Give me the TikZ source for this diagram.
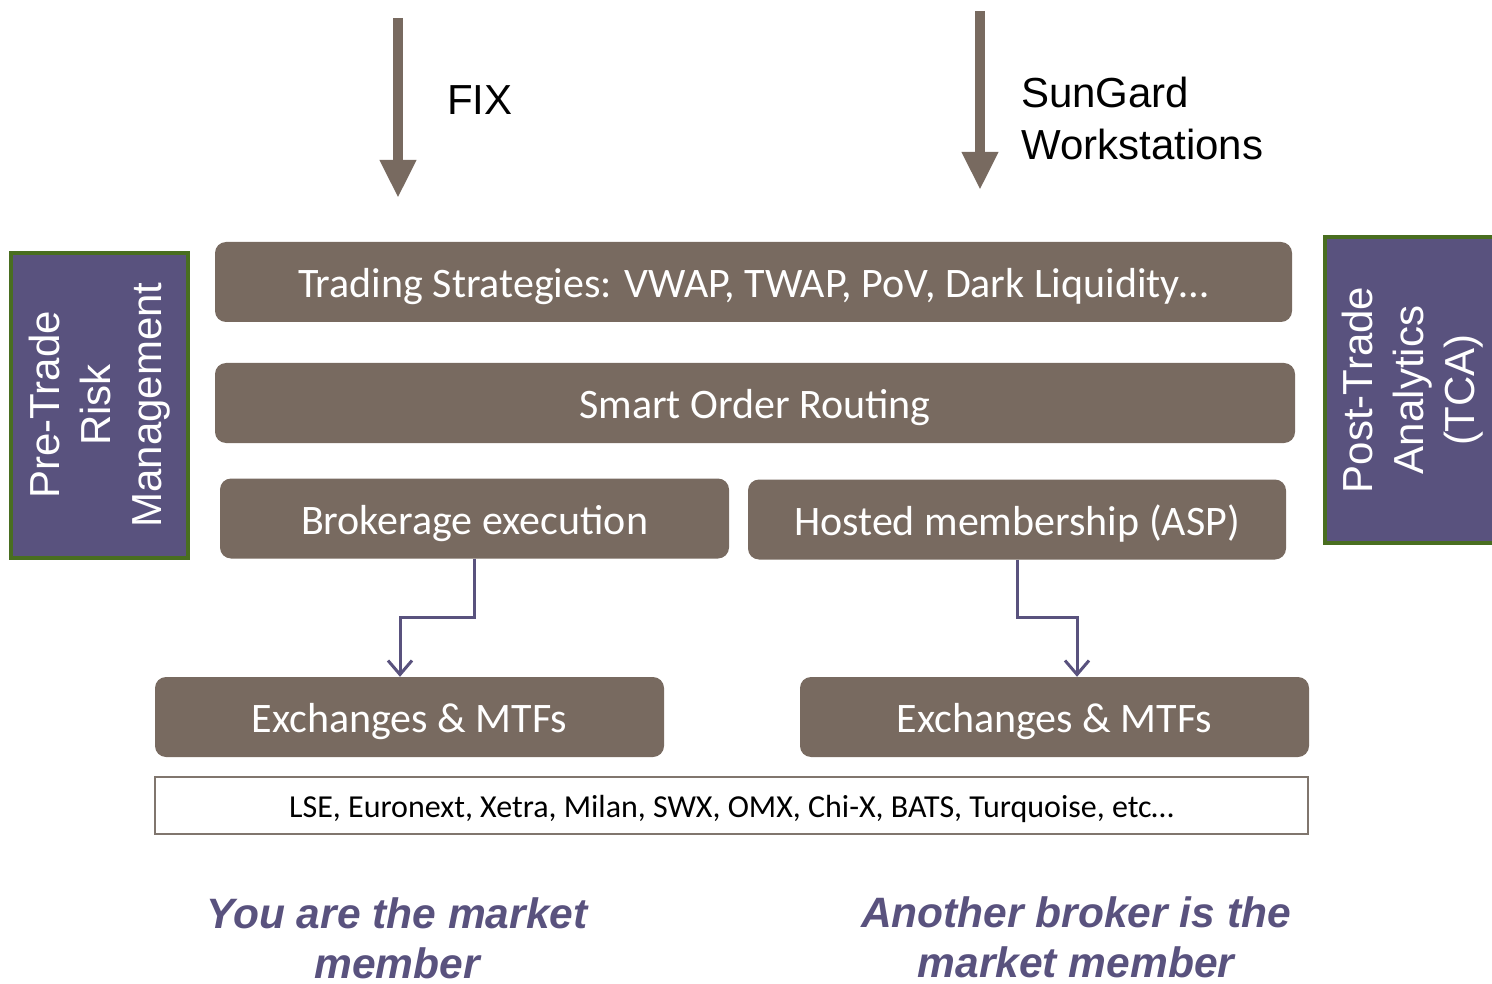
\documentclass[tikz,border=0pt]{standalone}
\usepackage{fontspec}
\setmainfont{Carlito}
\newfontfamily\arialf{Liberation Sans}
\usetikzlibrary{arrows.meta}
\definecolor{boxc}{RGB}{120,106,96}
\definecolor{purp}{RGB}{89,82,126}
\definecolor{greenb}{RGB}{73,110,32}
\definecolor{lsegray}{RGB}{128,118,110}
\tikzset{
  layer/.style={rounded corners=11pt, fill=boxc, text=white, inner sep=0pt,
    text height=31pt, text depth=0pt, font=\fontsize{42}{50}\selectfont},
  sidebox/.style={draw=greenb, line width=4pt, fill=purp, inner sep=0pt},
  sidetext/.style={rotate=90, align=center, text=white, inner sep=0pt,
    font=\arialf\fontsize{42}{51}\selectfont},
  bigarrow/.style={draw=boxc, line width=10pt, -{Triangle[width=34pt,length=38pt]}},
  conn/.style={draw=purp, line width=3pt, -{Straight Barb[length=14pt,width=24pt,line width=3pt]}},
  toplabel/.style={align=left, anchor=west, inner sep=0pt, font=\arialf\fontsize{42}{52}\selectfont},
  member/.style={align=center, text=purp, inner sep=0pt, font=\arialf\bfseries\itshape\fontsize{42.5}{50}\selectfont},
}
\begin{document}
\begin{tikzpicture}[x=1pt,y=-1pt]
\useasboundingbox (0,0) rectangle (1492,984);
% top arrows
\coordinate (fixtop) at (398,18);
\coordinate (fixbot) at (398,198);
\draw[bigarrow] (fixtop) -- (fixbot);
\node[toplabel] (fix) at (447,100) {FIX};
\coordinate (sgtop) at (980,11);
\coordinate (sgbot) at (980,190);
\draw[bigarrow] (sgtop) -- (sgbot);
\node[toplabel] (sg) at (1021,118) {SunGard\\Workstations};
% layers
\node[layer, minimum width=1077pt, minimum height=80pt] (trade) at (753.5,282) {Trading Strategies: VWAP, TWAP, PoV, Dark Liquidity…};
\node[layer, minimum width=1080pt, minimum height=80pt] (sor) at (755,403) {Smart Order Routing};
\node[layer, minimum width=509pt, minimum height=80pt] (brok) at (474.5,518.5) {Brokerage execution};
\node[layer, minimum width=538pt, minimum height=80pt] (host) at (1017,519.5) {Hosted membership (ASP)};
\node[layer, minimum width=509pt, minimum height=80pt] (exL) at (409.5,717) {Exchanges \& MTFs};
\node[layer, minimum width=509pt, minimum height=80pt] (exR) at (1054.5,717) {Exchanges \& MTFs};
\node[draw=lsegray, line width=2pt, fill=white, minimum width=1153pt, minimum height=57pt, inner sep=0pt,
  text height=23pt, text depth=0pt, font=\fontsize{32}{38}\selectfont] (lse) at (731.5,805.5) {LSE, Euronext, Xetra, Milan, SWX, OMX, Chi-X, BATS, Turquoise, etc…};
% side boxes
\node[sidebox, minimum width=177pt, minimum height=305pt] (pre) at (99.5,405.5) {};
\node[sidetext] (pretext) at (100,405) {Pre-Trade\\Risk\\Management};
\node[sidebox, minimum width=180pt, minimum height=306pt] (post) at (1415,390) {};
\node[sidetext] (posttext) at (1413,390) {Post-Trade\\Analytics\\(TCA)};
% connectors
\draw[conn] (brok.south) |- (400,617) -- (400,0 |- exL.north);
\draw[conn] (host.south) |- (1077,617) -- (1077,0 |- exR.north);
% bottom captions
\node[member] (youm) at (397,938) {You are the market\\member};
\node[member] (anm) at (1076,937) {Another broker is the\\market member};
\end{tikzpicture}
\end{document}
